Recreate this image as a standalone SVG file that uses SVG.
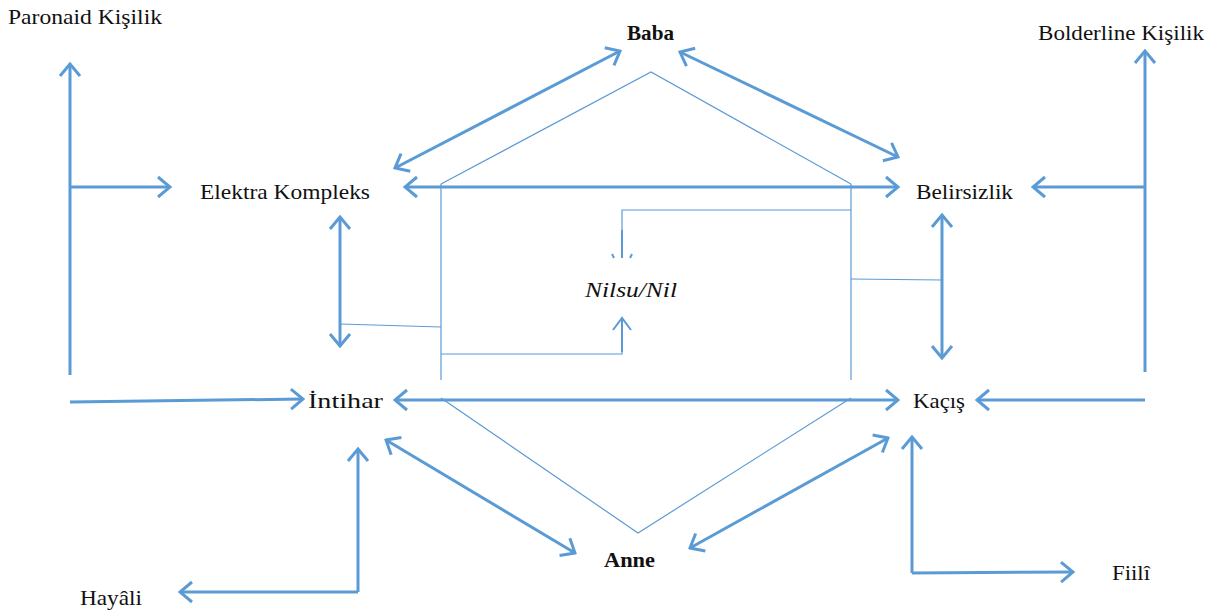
<svg xmlns="http://www.w3.org/2000/svg" width="1212" height="611" viewBox="0 0 1212 611">
<style>
.t{font-family:"Liberation Serif","Times New Roman",serif;font-size:22px;fill:#111}
.b{font-weight:bold}
.i{font-style:italic}
.c{stroke:#5B9BD5;stroke-width:3;fill:none}
.th{stroke:#5B9BD5;stroke-width:1.2;fill:none}
.a{marker-end:url(#ah)}
.d{marker-start:url(#ah);marker-end:url(#ah)}
</style>
<defs>
<marker id="ah" viewBox="0 0 16 24" refX="14" refY="12" markerWidth="16" markerHeight="24" markerUnits="userSpaceOnUse" orient="auto-start-reverse">
<path d="M2,2 L14,12 L2,22" fill="none" stroke="#5B9BD5" stroke-width="3"/>
</marker>
</defs>
<rect width="1212" height="611" fill="#fff"/>
<g id="connectors">
<line class="c a" x1="70" y1="375" x2="70" y2="64"/>
<line class="c a" x1="70" y1="187" x2="170" y2="187"/>
<line class="c a" x1="70" y1="402" x2="303" y2="399"/>
<line class="c d" x1="395" y1="168" x2="620" y2="51"/>
<line class="c d" x1="680" y1="52" x2="898" y2="157"/>
<line class="c d" x1="405" y1="187" x2="898" y2="187"/>
<line class="c d" x1="395" y1="400" x2="898" y2="400"/>
<polyline class="th" points="441,184 651,72 851,184"/>
<line class="th" x1="441" y1="184" x2="441" y2="380"/>
<line class="th" x1="851" y1="184" x2="851" y2="380"/>
<polyline class="th" points="441,398 638,533 851,398"/>
<line class="th" x1="340" y1="324" x2="441" y2="327"/>
<line class="th" x1="851" y1="279" x2="942" y2="280"/>
<polyline class="th" points="851,210 622,210 622,258"/>
<line x1="622" y1="230" x2="622" y2="258" stroke="#5B9BD5" stroke-width="2"/>
<line x1="612" y1="254" x2="614" y2="258" stroke="#5B9BD5" stroke-width="2"/>
<line x1="632" y1="254" x2="630" y2="258" stroke="#5B9BD5" stroke-width="2"/>
<polyline class="th" points="441,354 622,354 622,335"/>
<line x1="622" y1="352" x2="622" y2="319" stroke="#5B9BD5" stroke-width="2"/>
<polyline points="613,330 622,318 631,330" fill="none" stroke="#5B9BD5" stroke-width="2"/>
<line class="c d" x1="340" y1="217" x2="340" y2="346"/>
<line class="c d" x1="942" y1="215" x2="942" y2="358"/>
<line class="c a" x1="1145" y1="372" x2="1145" y2="51"/>
<line class="c a" x1="1145" y1="187" x2="1033" y2="187"/>
<line class="c a" x1="1145" y1="400" x2="977" y2="400"/>
<line class="c d" x1="386" y1="440" x2="575" y2="553"/>
<line class="c d" x1="690" y1="548" x2="888" y2="438"/>
<line class="c a" x1="358" y1="592" x2="358" y2="449"/>
<line class="c a" x1="358" y1="592" x2="180" y2="592"/>
<line class="c a" x1="912" y1="573" x2="912" y2="437"/>
<line class="c a" x1="912" y1="573" x2="1073" y2="572"/>
</g>
<g id="n-paronaid"><text class="t" x="8" y="24" textLength="154" lengthAdjust="spacingAndGlyphs">Paronaid Kişilik</text></g>
<g id="n-baba"><text class="t b" x="627" y="40" textLength="47" lengthAdjust="spacingAndGlyphs">Baba</text></g>
<g id="n-bolderline"><text class="t" x="1038" y="40" textLength="166" lengthAdjust="spacingAndGlyphs">Bolderline Kişilik</text></g>
<g id="n-elektra"><text class="t" x="200" y="199" textLength="170" lengthAdjust="spacingAndGlyphs">Elektra Kompleks</text></g>
<g id="n-belirsizlik"><text class="t" x="916" y="199" textLength="97" lengthAdjust="spacingAndGlyphs">Belirsizlik</text></g>
<g id="n-nilsu"><text class="t i" x="585" y="297" textLength="92" lengthAdjust="spacingAndGlyphs">Nilsu/Nil</text></g>
<g id="n-intihar"><text class="t" x="308" y="408" textLength="75" lengthAdjust="spacingAndGlyphs">İntihar</text></g>
<g id="n-kacis"><text class="t" x="913" y="408" textLength="52" lengthAdjust="spacingAndGlyphs">Kaçış</text></g>
<g id="n-anne"><text class="t b" x="604" y="567" textLength="51" lengthAdjust="spacingAndGlyphs">Anne</text></g>
<g id="n-hayali"><text class="t" x="80" y="605" textLength="62" lengthAdjust="spacingAndGlyphs">Hayâli</text></g>
<g id="n-fiili"><text class="t" x="1112" y="580" textLength="38" lengthAdjust="spacingAndGlyphs">Fiilî</text></g>
</svg>
